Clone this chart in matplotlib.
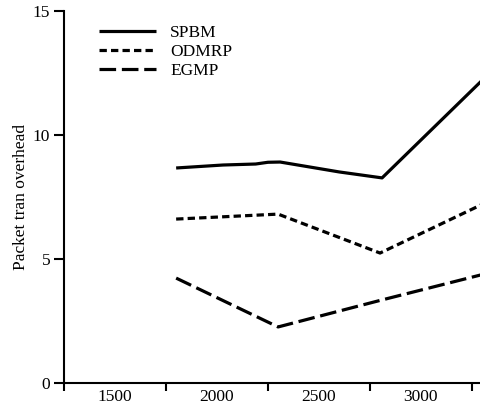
import matplotlib
matplotlib.use("Agg")
import matplotlib.pyplot as plt
from matplotlib.ticker import FixedLocator, NullFormatter

plt.rcParams['font.family'] = ['Liberation Serif', 'DejaVu Serif']

spbm_x = [1800, 2030, 2190, 2250, 2310, 2600, 2810, 3300]
spbm_y = [8.67, 8.79, 8.83, 8.90, 8.91, 8.51, 8.27, 12.2]
odmrp_x = [1800, 2300, 2800, 3300]
odmrp_y = [6.61, 6.81, 5.24, 7.2]
egmp_x = [1800, 2300, 2800, 3300]
egmp_y = [4.23, 2.26, 3.33, 4.37]
xtick_labels = ["1500", "2000", "2500", "3000"]
xtick_pos = [1500, 2000, 2500, 3000]
xbounds = [1250, 1750, 2250, 2750, 3250]
yticks = [0, 5, 10, 15]

fig = plt.figure(figsize=(4.8, 4.08), dpi=100)
W, H = 480, 408
ax = fig.add_axes([64 / W, (H - 383) / H, (482 - 64) / W, (383 - 11) / H])

lw = 2.3
ax.plot(spbm_x, spbm_y, color='black', lw=lw, solid_capstyle='butt', label='SPBM')
ax.plot(odmrp_x, odmrp_y, color='black', lw=lw, dashes=(2.3, 1.3), label='ODMRP')
ax.plot(egmp_x, egmp_y, color='black', lw=lw, dashes=(5.2, 1.8), label='EGMP')

ax.set_xlim(1250, 3300)
ax.set_ylim(0, 15)
for s in ['top', 'right']:
    ax.spines[s].set_visible(False)
for s in ['left', 'bottom']:
    ax.spines[s].set_linewidth(1.5)
    ax.spines[s].set_clip_on(False)

ax.set_yticks(yticks)
ax.set_yticklabels([str(v) for v in yticks])
ax.tick_params(axis='y', direction='out', length=7, width=1.5, pad=3, labelsize=12.5)

ax.xaxis.set_major_locator(FixedLocator(xtick_pos))
ax.set_xticklabels(xtick_labels)
ax.xaxis.set_minor_locator(FixedLocator(xbounds))
ax.xaxis.set_minor_formatter(NullFormatter())
ax.tick_params(axis='x', which='major', length=0, pad=4, labelsize=12.5)
ax.tick_params(axis='x', which='minor', direction='out', length=6, width=1.5)

ax.set_ylabel('Packet tran overhead', fontsize=12.5, labelpad=3)

leg = ax.legend(loc='upper left', bbox_to_anchor=((99 - 64) / (482 - 64), 1 - (25 - 11) / (383 - 11)),
                frameon=False, fontsize=12.5, handlelength=3.3, handletextpad=0.8,
                labelspacing=0.17, borderaxespad=0, borderpad=0)

fig.savefig('out.png', dpi=100)
